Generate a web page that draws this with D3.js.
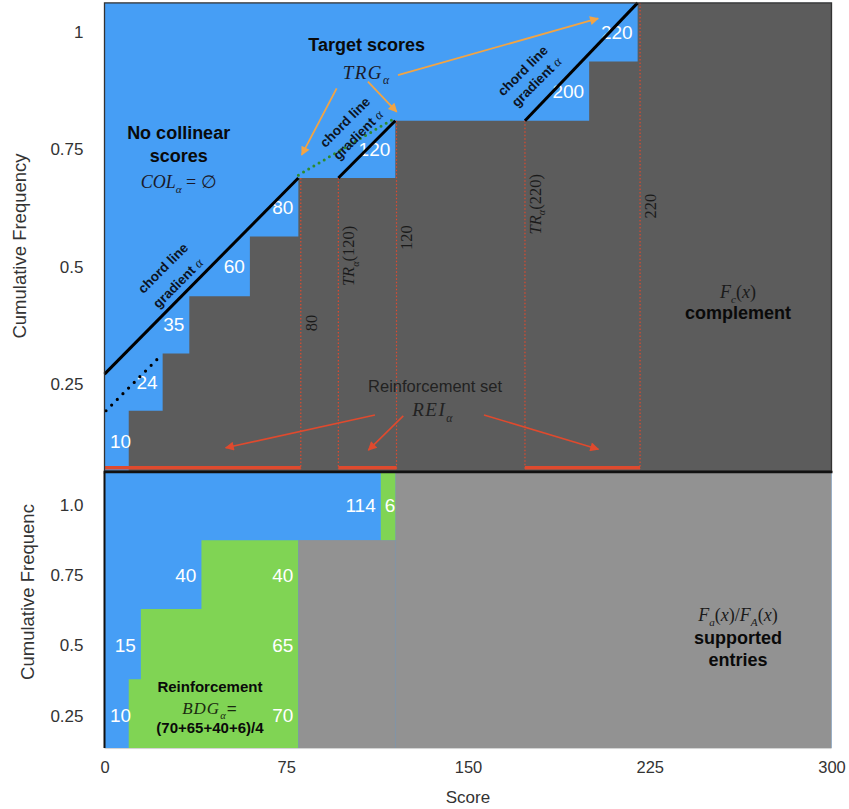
<!DOCTYPE html>
<html><head><meta charset="utf-8">
<script src="https://cdn.jsdelivr.net/npm/d3@7"></script>
<style>body{margin:0;background:#fff}svg{display:block}</style>
</head><body>
<svg id="c" width="849" height="809"></svg>
<script>
// ---------------- data ----------------
const xTicks = [0, 75, 150, 225, 300];
// upper panel: cumulative step function F_c(x)
const upperScores = [10, 24, 35, 60, 80, 120, 200, 220];
const upperCum = [0.193, 0.315, 0.437, 0.564, 0.689, 0.811, 0.937, 1.062];
const upperTicks = [0.25, 0.5, 0.75, 1];
const upperTickLabels = ["0.25", "0.5", "0.75", "1"];
const upperRange = [0.0646, 1.062];
// chord lines (gradient alpha)
const chordStartX = [0, 96.5, 173.5];
const chordStartY = [0.271, 0.689, 0.811];
const chordEndX = [80, 120, 220];
const chordEndY = [0.689, 0.811, 1.062];
const chordExtX = [0, 22.6];
const chordExtY = [0.193, 0.307];
const targetDotX = [80, 120];
const targetDotY = [0.695, 0.817];
// reinforcement intervals
const reiStart = [0, 96.5, 173.5];
const reiEnd = [81, 120.5, 221];
const boundaryScores = [81, 96.5, 120.5, 173.5, 221];
const boundaryTops = [0.689, 0.689, 0.811, 0.811, 1.062];
const rotLabels = ["80", "TR(120)", "120", "TR(220)", "220"];
const rotLabelY = [0.38, 0.523, 0.562, 0.633, 0.629];
// lower panel: supported entries
const lowerTicks = [0.25, 0.5, 0.75, 1.0];
const lowerTickLabels = ["0.25", "0.5", "0.75", "1.0"];
const lowerRange = [0.135, 1.115];
const lowerStepX = [10, 15, 40, 80];
const lowerStepTop = [0.38, 0.63, 0.875, 0.875];
const lowerBarX = [114, 120];
const lowerBarBottom = 0.875;
const lowerBlueLabels = ["10", "15", "40", "114"];
const lowerBlueX = [10, 15, 40, 114];
const lowerBlueY = [0.25, 0.5, 0.75, 1.0];
const lowerGreenLabels = ["70", "65", "40"];
const lowerGreenY = [0.25, 0.5, 0.75];

// ---------------- setup ----------------
const C = {blue:"#469ef5", dark:"#5c5c5c", gray:"#929292", green:"#80d454",
  red:"#df4a2e", orange:"#f2a444", dgreen:"#2e8b2e"};
const SANS = "'Liberation Sans', Arial, Helvetica, sans-serif";
const SERIF = "'Liberation Serif', 'Times New Roman', serif";
const svg = d3.select("#c");
const x = d3.scaleLinear().domain([0, 300]).range([104.5, 831.5]);
const yU = d3.scaleLinear().domain([0, 1]).range([501.3, 32]);
const yL = d3.scaleLinear().domain([0, 1]).range([786, 505]);

const defs = svg.append("defs");
function marker(id, col){
  defs.append("marker").attr("id", id).attr("viewBox","0 0 10 10").attr("refX",9).attr("refY",5)
    .attr("markerWidth",11).attr("markerHeight",9).attr("markerUnits","userSpaceOnUse")
    .attr("orient","auto").append("path").attr("d","M0,0L10,5L0,10Z").attr("fill",col);
}
marker("ao", C.orange); marker("ar", C.red);

function rich(g, px, py, parts, o){
  const size = o.size;
  const t = g.append("text").attr("x",px).attr("y",py + size*0.35)
    .attr("text-anchor",o.anchor||"middle").attr("font-size",size)
    .attr("fill",o.fill||"#111").attr("font-family",o.family||SERIF);
  if(o.rotate) t.attr("transform",`rotate(${o.rotate},${px},${py})`);
  let shifted = 0;
  parts.forEach(p=>{
    const ts = t.append("tspan").text(p.t);
    if(p.i) ts.attr("font-style","italic");
    if(p.b) ts.attr("font-weight","bold");
    if(p.f) ts.attr("font-family",p.f);
    const want = p.sub ? size*0.28 : 0;
    if(want !== shifted){ ts.attr("dy", want - shifted); shifted = want; }
    if(p.sub) ts.attr("font-size", size*0.62);
  });
  return t;
}

// ---------------- upper panel ----------------
const gU = svg.append("g");
const uTop = yU(upperRange[1]), uBot = yU(upperRange[0]);
gU.append("rect").attr("x",x(0)).attr("y",uTop).attr("width",x(300)-x(0)).attr("height",uBot-uTop).attr("fill",C.blue);
const stepPts = upperScores.map((s,i)=>[s, upperCum[i]]).concat([[300, upperCum[upperCum.length-1]]]);
gU.append("path").datum(stepPts)
  .attr("d", d3.area().x(d=>x(d[0])).y0(uBot).y1(d=>Math.max(uTop,yU(d[1]))).curve(d3.curveStepAfter))
  .attr("fill", C.dark);

// step labels
upperScores.forEach((s,i)=>{
  const prev = i ? upperCum[i-1] : upperRange[0];
  const ym = yU((prev + upperCum[i])/2);
  gU.append("text").attr("x", i===0 ? x(0)+5.5 : x(s)-5).attr("y", ym + 19*0.35)
    .attr("text-anchor", i===0 ? "start" : "end").attr("font-size",19)
    .attr("font-family",SANS).attr("fill","#fff").text(s);
});

// red dotted boundaries
boundaryScores.forEach((s,i)=>{
  gU.append("line").attr("x1",x(s)).attr("x2",x(s)).attr("y1",yU(boundaryTops[i])).attr("y2",uBot-2)
    .attr("stroke",C.red).attr("stroke-width",1.2).attr("stroke-dasharray","1.5,2");
});
// red reinforcement bars
reiStart.forEach((s,i)=>{
  gU.append("line").attr("x1",x(s)).attr("x2",x(reiEnd[i])).attr("y1",uBot-3.3).attr("y2",uBot-3.3)
    .attr("stroke",C.red).attr("stroke-width",3.5);
});

// chord lines
chordStartX.forEach((s,i)=>{
  gU.append("line").attr("x1",x(s)).attr("y1",yU(chordStartY[i])).attr("x2",x(chordEndX[i])).attr("y2",yU(chordEndY[i]))
    .attr("stroke","#000").attr("stroke-width",3);
});
gU.append("line").attr("x1",x(chordExtX[0])+1.5).attr("y1",yU(chordExtY[0])).attr("x2",x(chordExtX[1])).attr("y2",yU(chordExtY[1]))
  .attr("stroke","#000").attr("stroke-width",3.2).attr("stroke-linecap","round").attr("stroke-dasharray","0,8");
gU.append("line").attr("x1",x(targetDotX[0])).attr("y1",yU(targetDotY[0])).attr("x2",x(targetDotX[1])).attr("y2",yU(targetDotY[1]))
  .attr("stroke",C.dgreen).attr("stroke-width",3).attr("stroke-linecap","round").attr("stroke-dasharray","0,6");

// chord text
const chordText = [[24.1,0.497,30.3,0.465],[99.2,0.808,104.6,0.781],[172.6,0.9175,178.3,0.894]];
chordText.forEach(c=>{
  rich(gU, x(c[0]), yU(c[1]), [{t:"chord line", b:true, f:SANS}], {size:13.5, rotate:-45, fill:"#0c1424"});
  rich(gU, x(c[2]), yU(c[3]), [{t:"gradient ", b:true, f:SANS},{t:"α", i:true}], {size:13.5, rotate:-45, fill:"#0c1424"});
});

// rotated boundary labels
rotLabels.forEach((t,i)=>{
  const px = x(boundaryScores[i]) + 10, py = yU(rotLabelY[i]);
  let parts;
  if(t.startsWith("TR")) parts = [{t:"TR", i:true},{t:"α", i:true, sub:true},{t:t.slice(2)}];
  else parts = [{t:t}];
  rich(gU, px, py, parts, {size:16.5, rotate:-90, fill:"#1a1a1a"});
});

// annotations upper
rich(gU, x(30.6), yU(0.785), [{t:"No collinear"}], {size:18, family:SANS, fill:"#0a0a0a"}).attr("font-weight","bold");
rich(gU, x(30.6), yU(0.737), [{t:"scores"}], {size:18, family:SANS, fill:"#0a0a0a"}).attr("font-weight","bold");
rich(gU, x(30.6), yU(0.681), [{t:"COL",i:true},{t:"α",i:true,sub:true},{t:" = ∅"}], {size:18, fill:"#1a1a2a"});
rich(gU, x(108.2), yU(0.972), [{t:"Target scores"}], {size:18, family:SANS, fill:"#0a0a0a"}).attr("font-weight","bold");
rich(gU, x(108.2), yU(0.915), [{t:"TRG",i:true},{t:"α",i:true,sub:true}], {size:19, fill:"#1a1a2a"}).attr("letter-spacing",1.5);
rich(gU, x(136.4), yU(0.246), [{t:"Reinforcement set"}], {size:16.5, family:SANS, fill:"#222"});
rich(gU, x(135.6), yU(0.195), [{t:"REI",i:true},{t:"α",i:true,sub:true}], {size:19, fill:"#222"}).attr("letter-spacing",1.5);
rich(gU, x(261.4), yU(0.447), [{t:"F",i:true},{t:"c",i:true,sub:true},{t:"("},{t:"x",i:true},{t:")"}], {size:18, fill:"#1a1a1a"});
rich(gU, x(261.4), yU(0.401), [{t:"complement"}], {size:18, family:SANS, fill:"#0a0a0a"}).attr("font-weight","bold");

// arrows
const orangeArrows = [[95.8,0.880,81.4,0.738],[108.7,0.894,120.6,0.830],[121.1,0.908,203.7,1.029]];
orangeArrows.forEach(a=>{
  gU.append("line").attr("x1",x(a[0])).attr("y1",yU(a[1])).attr("x2",x(a[2])).attr("y2",yU(a[3]))
    .attr("stroke",C.orange).attr("stroke-width",1.8).attr("marker-end","url(#ao)");
});
const redArrows = [[111.6,0.184,50.0,0.114],[123.3,0.182,108.9,0.109],[156.6,0.184,203.8,0.111]];
redArrows.forEach(a=>{
  gU.append("line").attr("x1",x(a[0])).attr("y1",yU(a[1])).attr("x2",x(a[2])).attr("y2",yU(a[3]))
    .attr("stroke",C.red).attr("stroke-width",1.6).attr("marker-end","url(#ar)");
});

// upper border
gU.append("rect").attr("x",x(0)).attr("y",uTop).attr("width",x(300)-x(0)).attr("height",uBot-uTop)
  .attr("fill","none").attr("stroke","#333").attr("stroke-width",1.3);

// upper y axis
const axU = svg.append("g").attr("transform",`translate(${x(0)},0)`)
  .call(d3.axisLeft(yU).tickValues(upperTicks).tickFormat((d,i)=>upperTickLabels[i]).tickSize(0).tickPadding(21));
axU.select(".domain").remove();
axU.selectAll("text").attr("font-size",17).attr("font-family",SANS).attr("fill","#333");

// ---------------- lower panel ----------------
const gL = svg.append("g");
const lTop = yL(lowerRange[1]), lBot = yL(lowerRange[0]);
gL.append("rect").attr("x",x(0)).attr("y",lTop).attr("width",x(300)-x(0)).attr("height",lBot-lTop).attr("fill",C.blue);
const lowPts = lowerStepX.map((s,i)=>[s, lowerStepTop[i]]);
gL.append("path").datum(lowPts)
  .attr("d", d3.area().x(d=>x(d[0])).y0(lBot).y1(d=>yL(d[1])).curve(d3.curveStepAfter))
  .attr("fill", C.green);
// gray complement of supported entries
gL.append("rect").attr("x",x(lowerStepX[lowerStepX.length-1])).attr("y",yL(lowerBarBottom))
  .attr("width",x(lowerBarX[1])-x(lowerStepX[lowerStepX.length-1])).attr("height",lBot-yL(lowerBarBottom)).attr("fill",C.gray);
gL.append("rect").attr("x",x(lowerBarX[1])).attr("y",lTop).attr("width",x(300)-x(lowerBarX[1])).attr("height",lBot-lTop).attr("fill",C.gray);
gL.append("rect").attr("x",x(lowerBarX[0])).attr("y",lTop).attr("width",x(lowerBarX[1])-x(lowerBarX[0]))
  .attr("height",yL(lowerBarBottom)-lTop).attr("fill",C.green);

lowerBlueLabels.forEach((t,i)=>{
  gL.append("text").attr("x", i===0 ? x(0)+5.5 : x(lowerBlueX[i])-5).attr("y", yL(lowerBlueY[i]) + 19*0.35)
    .attr("text-anchor", i===0 ? "start" : "end").attr("font-size",19).attr("font-family",SANS).attr("fill","#fff").text(t);
});
lowerGreenLabels.forEach((t,i)=>{
  gL.append("text").attr("x", x(lowerStepX[lowerStepX.length-1])-5).attr("y", yL(lowerGreenY[i]) + 19*0.35)
    .attr("text-anchor","end").attr("font-size",19).attr("font-family",SANS).attr("fill","#fff").text(t);
});
gL.append("text").attr("x", x(lowerBarX[1])).attr("y", yL(1.0) + 19*0.35)
  .attr("text-anchor","end").attr("font-size",19).attr("font-family",SANS).attr("fill","#fff").text("6");

rich(gL, x(43.5), yL(0.353), [{t:"Reinforcement"}], {size:15, family:SANS, fill:"#0a0a0a"}).attr("font-weight","bold");
rich(gL, x(43.5), yL(0.278), [{t:"BDG",i:true},{t:"α",i:true,sub:true},{t:"=",f:SANS}], {size:17, fill:"#1a2a10"}).attr("letter-spacing",1);
rich(gL, x(43.5), yL(0.206), [{t:"(70+65+40+6)/4"}], {size:15, family:SANS, fill:"#0a0a0a"}).attr("font-weight","bold");
rich(gL, x(261.4), yL(0.609), [{t:"F",i:true},{t:"a",i:true,sub:true},{t:"("},{t:"x",i:true},{t:")/"},{t:"F",i:true},{t:"A",i:true,sub:true},{t:"("},{t:"x",i:true},{t:")"}], {size:18, fill:"#1a1a1a"});
rich(gL, x(261.4), yL(0.527), [{t:"supported"}], {size:18, family:SANS, fill:"#0a0a0a"}).attr("font-weight","bold");
rich(gL, x(261.4), yL(0.448), [{t:"entries"}], {size:18, family:SANS, fill:"#0a0a0a"}).attr("font-weight","bold");

// lower frame lines
gL.append("line").attr("x1",x(0)).attr("x2",x(300)).attr("y1",lBot+0.5).attr("y2",lBot+0.5).attr("stroke","#d0d0d0").attr("stroke-width",1);
gL.append("line").attr("x1",x(0)).attr("x2",x(0)).attr("y1",lTop).attr("y2",lBot).attr("stroke","#111").attr("stroke-width",2);
// divider between panels
svg.append("line").attr("x1",x(0)-1).attr("x2",x(300)+1).attr("y1",uBot+1).attr("y2",uBot+1).attr("stroke","#111").attr("stroke-width",2.5);

// lower y axis
const axL = svg.append("g").attr("transform",`translate(${x(0)},0)`)
  .call(d3.axisLeft(yL).tickValues(lowerTicks).tickFormat((d,i)=>lowerTickLabels[i]).tickSize(0).tickPadding(21));
axL.select(".domain").remove();
axL.selectAll("text").attr("font-size",17).attr("font-family",SANS).attr("fill","#333");

// x axis
const axX = svg.append("g").attr("transform",`translate(0,${lBot})`)
  .call(d3.axisBottom(x).tickValues(xTicks).tickFormat(d3.format("d")).tickSize(0).tickPadding(13));
axX.select(".domain").remove();
axX.selectAll("text").attr("font-size",16.5).attr("font-family",SANS).attr("fill","#333");

// axis titles
svg.append("text").attr("transform","translate(26,246) rotate(-90)").attr("text-anchor","middle")
  .attr("font-size",18.5).attr("font-family",SANS).attr("fill","#333").text("Cumulative Frequency");
svg.append("text").attr("transform","translate(34,592) rotate(-90)").attr("text-anchor","middle")
  .attr("font-size",18.5).attr("font-family",SANS).attr("fill","#333").text("Cumulative Frequenc");
svg.append("text").attr("x",x(150)).attr("y",803).attr("text-anchor","middle")
  .attr("font-size",17).attr("font-family",SANS).attr("fill","#333").text("Score");
</script>
</body></html>
